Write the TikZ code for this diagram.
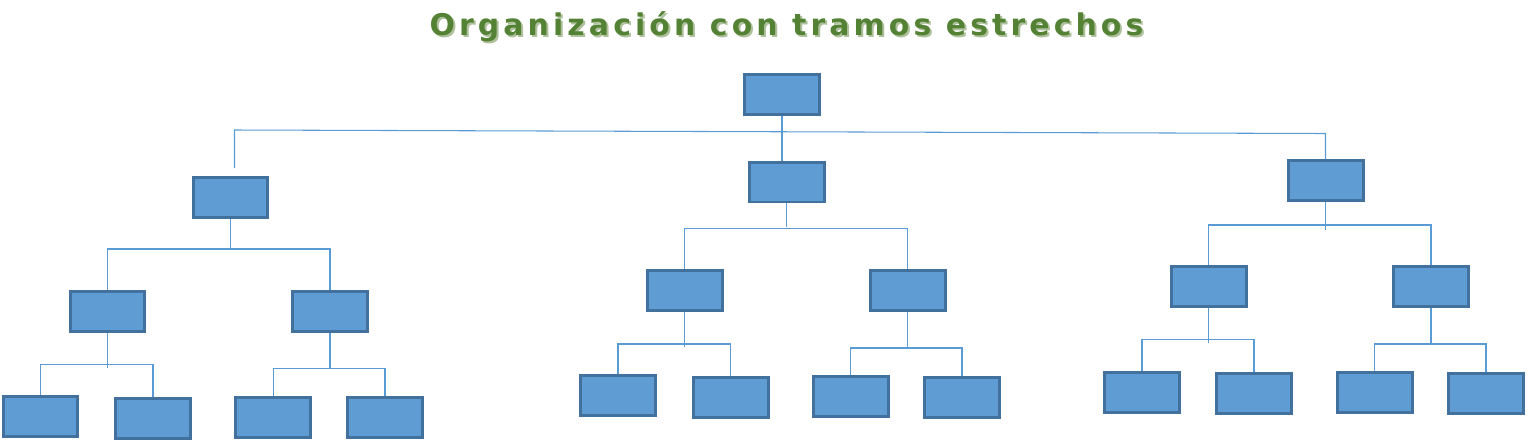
\documentclass[tikz,border=0pt]{standalone}
\usepackage{fontspec}
\newfontfamily\titlefont[LetterSpace=13.8]{DejaVu Sans}
\definecolor{boxfill}{HTML}{5E9CD3}
\definecolor{boxline}{HTML}{41719C}
\definecolor{linkcol}{HTML}{5B9BD5}
\definecolor{titlegreen}{HTML}{548235}
\definecolor{titleshade}{HTML}{AFC09C}
\begin{document}
\begin{tikzpicture}[x=0.02cm,y=-0.02cm,
	unit/.style={draw=boxline,fill=boxfill,line width=0.06cm,inner sep=0pt,
		minimum width=1.5cm,minimum height=0.8cm},
	link/.style={draw=linkcol,line width=0.6pt}]
	\useasboundingbox (0,0) rectangle (1535,443);

	% title with its shadow
	\node[anchor=base,text=titleshade] (shade) at (788.5,37)
		{\titlefont\bfseries\fontsize{17}{20}\selectfont Organización con tramos estrechos};
	\node[anchor=base,text=titlegreen] (title) at (786.5,35)
		{\titlefont\bfseries\fontsize{17}{20}\selectfont Organización con tramos estrechos};

	% boxes
	\foreach \name/\x/\y in {
		root/782/94.5,
		L/230.5/197.3, M/786.5/182, R/1325.5/180.5,
		LL/107.5/311, LR/330/311,
		ML/684.5/290.5, MR/907.5/290.5,
		RL/1208.5/286.5, RR/1431/286.5,
		LLa/40.5/416.3, LLb/153/418, LRa/273.3/417.3, LRb/385/417.5,
		MLa/618/395.5, MLb/730.5/397, MRa/850.5/396.5, MRb/962/397.5,
		RLa/1142/392, RLb/1254/393.5, RRa/1374.5/392.5, RRb/1486/393.5
	}
		\node[unit] (\name) at (\x,\y) {};

	% top level
	\coordinate (topleft) at (234.5,130);
	\draw[link] (root.south) -- (root.south |- M.north);
	\draw[link] (R.north) -- ++(0,-25.5) -- (topleft) -- ++(0,38);

	% lower levels
	\foreach \up/\kida/\kidb/\drop/\rise in {
		L/LL/LR/29/40.5,
		M/ML/MR/23/40.5,
		R/RL/RR/28/40,
		LL/LLa/LLb/35/30,
		LR/LRa/LRb/36/27,
		ML/MLa/MLb/34.5/30,
		MR/MRa/MRb/35/27,
		RL/RLa/RLb/35/31,
		RR/RRa/RRb/35/27
	}{
		\draw[link] (\up.south) -- ++(0,\drop);
		\draw[link] (\kida.north) -- ++(0,-\rise) -| (\kidb.north);
	}
\end{tikzpicture}
\end{document}
